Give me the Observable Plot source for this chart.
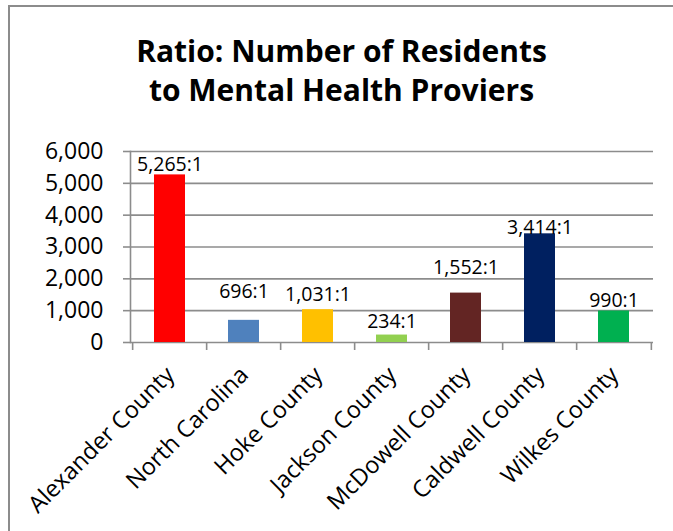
<!DOCTYPE html>
<html>
<head>
<meta charset="utf-8">
<script src="https://cdn.jsdelivr.net/npm/d3@7"></script>
<script src="https://cdn.jsdelivr.net/npm/@observablehq/plot@0.6"></script>
<style>
  html, body { margin: 0; padding: 0; background: #fff; overflow: hidden; }
  #wrap { position: relative; width: 673px; height: 531px; overflow: hidden; font-family: "Open Sans", sans-serif; }
  .line { position: absolute; background: #8c8c8c; }
  #title { position: absolute; left: 0; width: 683px; top: 31px; text-align: center; font-weight: 700; font-size: 30px; line-height: 39px; color: #000; }
  #chart { position: absolute; left: 0; top: 0; }
</style>
</head>
<body>
<div id="wrap">
  <div class="line" style="left:8px;top:5px;width:665px;height:2px;"></div>
  <div class="line" style="left:8px;top:5px;width:2px;height:526px;"></div>
  <div id="title">Ratio: Number of Residents<br>to Mental Health Proviers</div>
  <div id="chart"></div>
</div>
<script>
const categories = ["Alexander County", "North Carolina", "Hoke County", "Jackson County", "McDowell County", "Caldwell County", "Wilkes County"];
const values = [5265, 696, 1031, 234, 1552, 3414, 990];
const colors = ["#FF0000", "#4F81BD", "#FFC000", "#92D050", "#632523", "#002060", "#00B050"];
const yTicks = [0, 1000, 2000, 3000, 4000, 5000, 6000];
// pixel lift of each data label above its bar (as placed in the original)
const labelLift = [4, 22, 9, 7, 19, 0, 4];

const data = categories.map((c, i) => ({name: c, value: values[i], color: colors[i]}));
const grid = "#8c8c8c";
const W = 673, ML = 130, MR = 20;
const step = (W - ML - MR) / categories.length;

const plot = Plot.plot({
  width: W,
  height: 531,
  marginLeft: ML,
  marginRight: MR,
  marginTop: 151,
  marginBottom: 189,
  style: {fontFamily: "Open Sans, sans-serif", background: "transparent"},
  x: {domain: categories, paddingInner: 0.585, paddingOuter: 0.2925, axis: null},
  y: {domain: [0, 6000], axis: null},
  color: {type: "identity"},
  marks: [
    Plot.ruleY(yTicks, {stroke: grid, strokeWidth: 1.6}),
    Plot.axisY({ticks: yTicks, tickSize: 7, tickPadding: 20, stroke: grid, strokeWidth: 1.6, fontSize: 23, fill: "#000", tickFormat: d3.format(","), label: null}),
    Plot.frame({anchor: "left", stroke: grid, strokeWidth: 1.6}),
    Plot.axisX({ticks: categories, tickSize: 8, dx: -step / 2, stroke: grid, strokeWidth: 1.6, tickFormat: () => "", label: null}),
    Plot.axisX({ticks: categories.slice(-1), tickSize: 8, dx: step / 2, stroke: grid, strokeWidth: 1.6, tickFormat: () => "", label: null}),
    Plot.barY(data, {x: "name", y: "value", fill: "color"}),
    ...data.map((d, i) => Plot.text([d], {
      x: "name", y: "value",
      text: v => d3.format(",")(v.value) + ":1",
      lineAnchor: "bottom", dy: -labelLift[i],
      fontSize: 19.5, fill: "#000"
    })),
    Plot.text(categories, {
      x: d => d, frameAnchor: "bottom",
      text: d => d, rotate: -45, textAnchor: "end", lineAnchor: "top",
      dx: -6, dy: 22, fontSize: 23.5, fill: "#000"
    })
  ]
});
document.getElementById("chart").appendChild(plot);
</script>
</body>
</html>
